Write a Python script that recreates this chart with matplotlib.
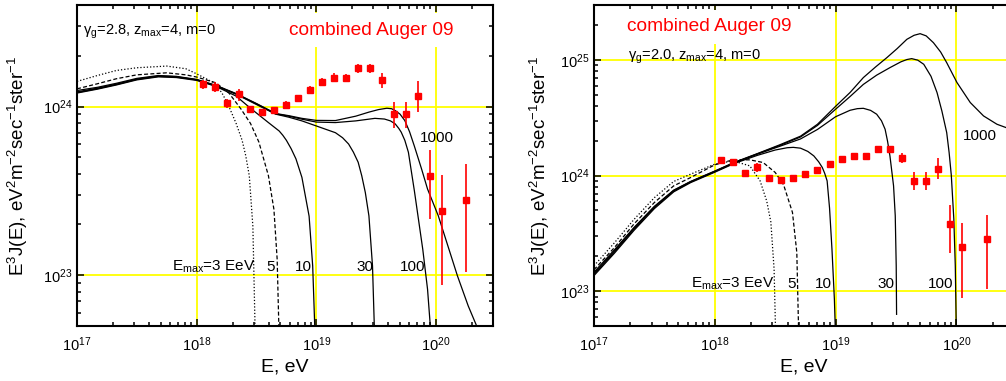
import numpy as np
import matplotlib
matplotlib.use('Agg')
import matplotlib.pyplot as plt
from matplotlib.ticker import LogLocator, NullFormatter

plt.rcParams['font.family'] = ['Liberation Sans', 'DejaVu Sans']
plt.rcParams['mathtext.fontset'] = 'custom'
plt.rcParams['mathtext.rm'] = 'Liberation Sans'
plt.rcParams['mathtext.it'] = 'Liberation Sans:italic'
plt.rcParams['mathtext.bf'] = 'Liberation Sans:bold'
plt.rcParams['mathtext.default'] = 'regular'

# combined Auger 2009 spectrum: log10(E/eV), E^3 J in units of 1e24
auger_logE = [18.05, 18.15, 18.25, 18.35, 18.45, 18.55, 18.65, 18.75, 18.85, 18.95, 19.05,
              19.15, 19.25, 19.35, 19.45, 19.55, 19.65, 19.75, 19.85, 19.95, 20.05, 20.25]
auger_J = [1.355, 1.31, 1.047, 1.18, 0.964, 0.925, 0.95, 1.028, 1.127, 1.25, 1.40,
           1.486, 1.486, 1.69, 1.69, 1.43, 0.90, 0.90, 1.15, 0.385, 0.239, 0.281]
auger_err_lo = [0.08, 0.09, 0.06, 0.095, 0.045, 0.045, 0.045, 0.045, 0.05, 0.07, 0.08,
                0.085, 0.07, 0.1, 0.1, 0.15, 0.15, 0.15, 0.22, 0.17, 0.152, 0.177]
auger_err_hi = [0.08, 0.09, 0.06, 0.095, 0.045, 0.045, 0.045, 0.045, 0.05, 0.07, 0.08,
                0.085, 0.07, 0.1, 0.1, 0.15, 0.17, 0.17, 0.27, 0.17, 0.152, 0.177]

# left panel: gamma_g = 2.8 (log10 E, log10 E^3J)
left_e3_logE = [17.0, 17.17, 17.33, 17.5, 17.75, 17.91, 18.0, 18.16, 18.22, 18.27, 18.33, 18.38, 18.41, 18.44, 18.47, 18.488]
left_e3_logJ = [24.149, 24.184, 24.214, 24.230, 24.240, 24.224, 24.194, 24.135, 24.07, 24.0, 23.90, 23.80, 23.71, 23.59, 23.29, 22.70]
left_e5_logE = [17.0, 17.17, 17.33, 17.5, 17.75, 17.91, 18.0, 18.16, 18.27, 18.37, 18.45, 18.52, 18.6, 18.646, 18.673, 18.687]
left_e5_logJ = [24.105, 24.135, 24.165, 24.188, 24.200, 24.188, 24.175, 24.141, 24.08, 23.986, 23.90, 23.79, 23.59, 23.39, 23.095, 22.70]
left_e10_logE = [17.0, 17.17, 17.33, 17.5, 17.68, 17.83, 18.0, 18.16, 18.33, 18.45, 18.6, 18.69, 18.72, 18.75, 18.79, 18.83, 18.88, 18.94, 18.97, 18.987]
left_e10_logJ = [24.080, 24.103, 24.128, 24.158, 24.176, 24.172, 24.155, 24.120, 24.062, 23.99, 23.905, 23.855, 23.83, 23.80, 23.75, 23.69, 23.58, 23.35, 23.055, 22.70]
left_e30_logE = [17.0, 17.17, 17.33, 17.5, 17.68, 17.83, 18.0, 18.16, 18.33, 18.5, 18.66, 18.77, 18.88, 19.0, 19.16, 19.22, 19.27, 19.31, 19.35, 19.38, 19.41, 19.44, 19.47, 19.485]
left_e30_logJ = [24.083, 24.106, 24.131, 24.161, 24.179, 24.175, 24.158, 24.123, 24.073, 24.012, 23.955, 23.937, 23.915, 23.885, 23.845, 23.815, 23.778, 23.73, 23.67, 23.59, 23.49, 23.352, 23.055, 22.70]
left_e100_logE = [17.0, 17.17, 17.33, 17.5, 17.68, 17.83, 18.0, 18.16, 18.33, 18.5, 18.66, 18.77, 18.88, 19.0, 19.16, 19.33, 19.49, 19.57, 19.62, 19.66, 19.69, 19.71, 19.74, 19.77, 19.82, 19.89, 19.93, 19.953]
left_e100_logJ = [24.087, 24.109, 24.133, 24.163, 24.181, 24.177, 24.159, 24.124, 24.075, 24.016, 23.957, 23.943, 23.925, 23.908, 23.905, 23.915, 23.930, 23.926, 23.915, 23.897, 23.87, 23.848, 23.80, 23.729, 23.50, 23.154, 22.917, 22.70]
left_e1000_logE = [17.0, 17.17, 17.33, 17.5, 17.68, 17.83, 18.0, 18.16, 18.33, 18.5, 18.66, 18.77, 18.88, 19.0, 19.16, 19.33, 19.44, 19.52, 19.59, 19.63, 19.66, 19.70, 19.74, 19.78, 19.82, 19.88, 19.93, 20.02, 20.1, 20.18, 20.27, 20.34]
left_e1000_logJ = [24.095, 24.114, 24.138, 24.167, 24.184, 24.179, 24.161, 24.126, 24.077, 24.018, 23.959, 23.946, 23.93, 23.918, 23.917, 23.943, 23.967, 23.982, 23.990, 23.987, 23.976, 23.955, 23.917, 23.85, 23.765, 23.630, 23.511, 23.352, 23.174, 22.996, 22.818, 22.70]

# right panel: gamma_g = 2.0
right_e3_logE = [17.0, 17.17, 17.33, 17.5, 17.66, 17.8, 18.0, 18.15, 18.29, 18.375, 18.43, 18.464, 18.491, 18.502]
right_e3_logJ = [23.22, 23.42, 23.62, 23.81, 23.95, 24.013, 24.10, 24.128, 24.085, 23.955, 23.78, 23.60, 23.19, 22.70]
right_e5_logE = [17.0, 17.17, 17.33, 17.5, 17.66, 17.8, 18.0, 18.15, 18.29, 18.4, 18.5, 18.57, 18.643, 18.679, 18.693]
right_e5_logJ = [23.186, 23.379, 23.581, 23.768, 23.912, 23.984, 24.094, 24.137, 24.137, 24.114, 24.028, 23.92, 23.682, 23.336, 22.70]
right_e10_logE = [17.0, 17.17, 17.33, 17.5, 17.66, 17.8, 18.0, 18.16, 18.35, 18.5, 18.6, 18.65, 18.71, 18.77, 18.82, 18.86, 18.89, 18.91, 18.93, 18.95, 18.97, 18.99, 18.997]
right_e10_logJ = [23.135, 23.33, 23.525, 23.715, 23.86, 23.94, 24.03, 24.105, 24.175, 24.222, 24.242, 24.245, 24.238, 24.21, 24.171, 24.12, 24.071, 24.02, 23.955, 23.72, 23.365, 22.933, 22.70]
right_e30_logE = [17.0, 17.17, 17.33, 17.5, 17.66, 17.8, 18.0, 18.16, 18.35, 18.54, 18.71, 18.85, 19.0, 19.12, 19.18, 19.23, 19.29, 19.34, 19.38, 19.41, 19.43, 19.45, 19.48, 19.494, 19.502, 19.505]
right_e30_logJ = [23.145, 23.34, 23.535, 23.725, 23.867, 23.945, 24.035, 24.11, 24.185, 24.255, 24.318, 24.40, 24.51, 24.566, 24.58, 24.583, 24.565, 24.532, 24.475, 24.402, 24.30, 24.171, 23.912, 23.653, 23.22, 22.80]
right_e100_logE = [17.0, 17.17, 17.33, 17.5, 17.66, 17.8, 18.0, 18.16, 18.35, 18.54, 18.71, 18.85, 19.0, 19.12, 19.23, 19.34, 19.45, 19.54, 19.59, 19.63, 19.68, 19.73, 19.79, 19.84, 19.88, 19.92, 19.94, 19.958, 19.979, 19.991, 19.999]
right_e100_logJ = [23.155, 23.35, 23.545, 23.73, 23.872, 23.948, 24.038, 24.112, 24.188, 24.262, 24.335, 24.435, 24.575, 24.685, 24.79, 24.87, 24.935, 24.985, 25.005, 25.013, 25.0, 24.964, 24.86, 24.719, 24.56, 24.373, 24.2, 24.004, 23.624, 23.22, 22.70]
right_e1000_logE = [17.0, 17.17, 17.33, 17.5, 17.66, 17.8, 18.0, 18.16, 18.35, 18.54, 18.71, 18.85, 19.0, 19.12, 19.23, 19.33, 19.425, 19.51, 19.59, 19.65, 19.70, 19.75, 19.81, 19.87, 19.92, 20.005, 20.115, 20.225, 20.336, 20.48]
right_e1000_logJ = [23.165, 23.36, 23.55, 23.735, 23.875, 23.95, 24.04, 24.115, 24.19, 24.268, 24.342, 24.445, 24.60, 24.72, 24.849, 24.94, 25.022, 25.10, 25.18, 25.215, 25.229, 25.21, 25.151, 25.07, 24.978, 24.806, 24.633, 24.517, 24.445, 24.39]

x_ticks = [1e17, 1e18, 1e19, 1e20]
x_ticklabels = ['$10^{17}$', '$10^{18}$', '$10^{19}$', '$10^{20}$']

ylabel = 'E$^3$J(E), eV$^2$m$^{-2}$sec$^{-1}$ster$^{-1}$'

dotted = (0, (1, 1.6))
dashed = (0, (3.2, 1.8))


def draw_panel(ax, curves, ylim, yticks, yticklabels):
    for logE, logJ, ls in curves:
        ax.plot(10 ** np.array(logE), 10 ** np.array(logJ), color='black', lw=0.9, linestyle=ls, zorder=3)
    ax.errorbar(10 ** np.array(auger_logE), np.array(auger_J) * 1e24,
                yerr=[np.array(auger_err_lo) * 1e24, np.array(auger_err_hi) * 1e24],
                fmt='s', color='#ff0000', ms=4.3, elinewidth=1.2, capsize=0, zorder=4)
    ax.set_xscale('log')
    ax.set_yscale('log')
    ax.set_xlim(1e17, 3e20)
    ax.set_ylim(*ylim)
    ax.set_xticks(x_ticks)
    ax.set_xticklabels(x_ticklabels)
    ax.set_yticks(yticks)
    ax.set_yticklabels(yticklabels)
    ax.xaxis.set_minor_locator(LogLocator(base=10, subs=np.arange(2, 10), numticks=30))
    ax.yaxis.set_minor_locator(LogLocator(base=10, subs=np.arange(2, 10), numticks=30))
    ax.xaxis.set_minor_formatter(NullFormatter())
    ax.yaxis.set_minor_formatter(NullFormatter())
    ax.tick_params(which='both', direction='in', top=True, right=True, labelsize=10.5, width=1.1)
    ax.tick_params(which='major', length=5)
    ax.tick_params(which='minor', length=3)
    ax.tick_params(axis='x', pad=7)
    ax.grid(True, which='major', color='#ffff00', lw=1.3)
    for s in ax.spines.values():
        s.set_linewidth(1.5)
    ax.set_xlabel('E, eV', fontsize=14)
    ax.set_ylabel(ylabel, fontsize=13.5)


fig = plt.figure(figsize=(10.06, 3.81), dpi=100)
ax1 = fig.add_axes([77 / 1006, 55 / 381, 416 / 1006, 321 / 381])
ax2 = fig.add_axes([594 / 1006, 55 / 381, 420 / 1006, 321 / 381])

draw_panel(ax1, [(left_e3_logE, left_e3_logJ, dotted), (left_e5_logE, left_e5_logJ, dashed),
                 (left_e10_logE, left_e10_logJ, '-'), (left_e30_logE, left_e30_logJ, '-'),
                 (left_e100_logE, left_e100_logJ, '-'), (left_e1000_logE, left_e1000_logJ, '-')],
           (5e22, 4e24), [1e23, 1e24], ['$10^{23}$', '$10^{24}$'])
draw_panel(ax2, [(right_e3_logE, right_e3_logJ, dotted), (right_e5_logE, right_e5_logJ, dashed),
                 (right_e10_logE, right_e10_logJ, '-'), (right_e30_logE, right_e30_logJ, '-'),
                 (right_e100_logE, right_e100_logJ, '-'), (right_e1000_logE, right_e1000_logJ, '-')],
           (5e22, 3e25), [1e23, 1e24, 1e25], ['$10^{23}$', '$10^{24}$', '$10^{25}$'])

for ax in (ax1, ax2):
    ax.xaxis.set_label_coords(0.5, -0.10)
ax1.yaxis.set_label_coords(-0.113, 0.5)
ax2.yaxis.set_label_coords(-0.100, 0.5)

box = dict(fc='white', ec='none', pad=6)

# left panel annotations
ax1.text(0.014, 0.915, 'γ$_\\mathrm{g}$=2.8, z$_\\mathrm{max}$=4, m=0', transform=ax1.transAxes,
         fontsize=10.5, va='center', ha='left')
ax1.text(0.51, 0.922, 'combined Auger 09', transform=ax1.transAxes, color='#ff0000',
         fontsize=13.8, va='center', ha='left', bbox=box, zorder=6)
ax1.text(0.8245, 0.586, '1000', transform=ax1.transAxes, fontsize=11, va='center', ha='left')
ax1.text(0.228, 0.184, 'E$_\\mathrm{max}$=3 EeV', transform=ax1.transAxes, fontsize=11, va='center', ha='left')
ax1.text(0.456, 0.184, '5', transform=ax1.transAxes, fontsize=11, va='center', ha='left')
ax1.text(0.524, 0.184, '10', transform=ax1.transAxes, fontsize=11, va='center', ha='left')
ax1.text(0.671, 0.184, '30', transform=ax1.transAxes, fontsize=11, va='center', ha='left')
ax1.text(0.776, 0.184, '100', transform=ax1.transAxes, fontsize=11, va='center', ha='left')

# right panel annotations
ax2.text(0.078, 0.932, 'combined Auger 09', transform=ax2.transAxes, color='#ff0000',
         fontsize=13.8, va='center', ha='left', bbox=box, zorder=6)
ax2.text(0.082, 0.838, 'γ$_\\mathrm{g}$=2.0, z$_\\mathrm{max}$=4, m=0', transform=ax2.transAxes,
         fontsize=10.5, va='center', ha='left')
ax2.text(0.878, 0.592, '1000', transform=ax2.transAxes, fontsize=11, va='center', ha='left')
ax2.text(0.230, 0.131, 'E$_\\mathrm{max}$=3 EeV', transform=ax2.transAxes, fontsize=11, va='center', ha='left')
ax2.text(0.461, 0.131, '5', transform=ax2.transAxes, fontsize=11, va='center', ha='left')
ax2.text(0.527, 0.131, '10', transform=ax2.transAxes, fontsize=11, va='center', ha='left')
ax2.text(0.674, 0.131, '30', transform=ax2.transAxes, fontsize=11, va='center', ha='left')
ax2.text(0.794, 0.131, '100', transform=ax2.transAxes, fontsize=11, va='center', ha='left')

fig.savefig('out.png', dpi=100)
